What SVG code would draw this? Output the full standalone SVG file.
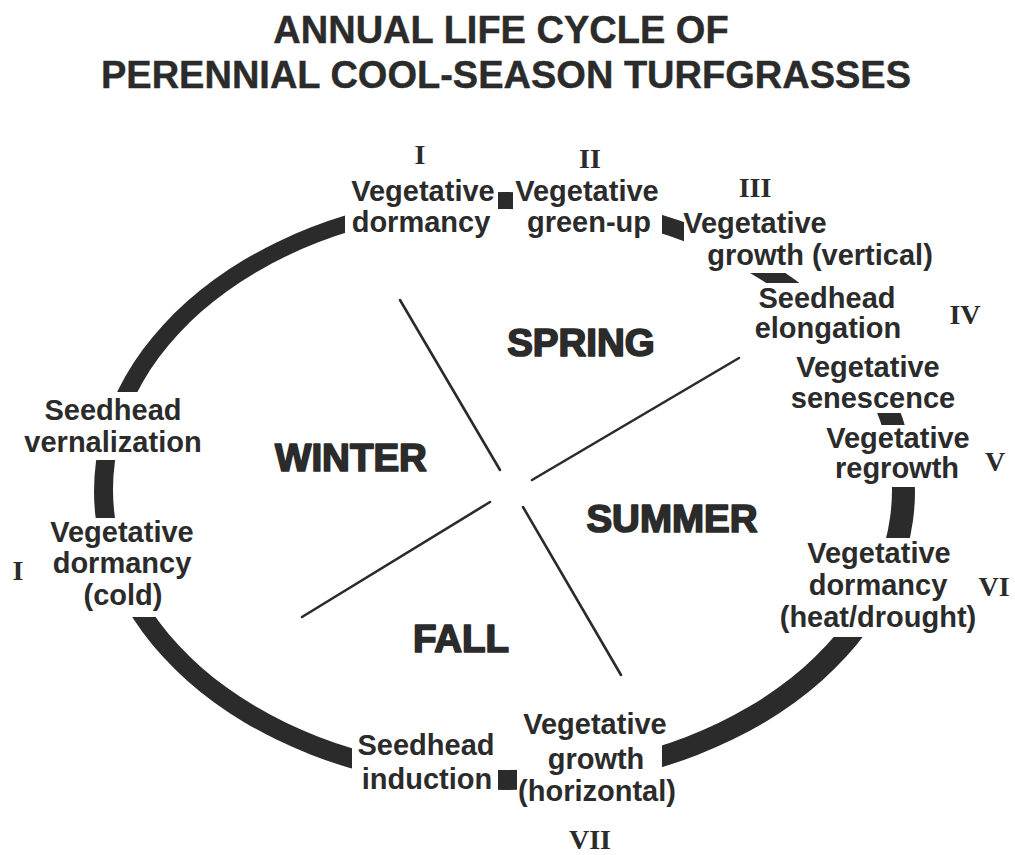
<svg xmlns="http://www.w3.org/2000/svg" width="1015" height="855" viewBox="0 0 1015 855">
<style>
  .title { font-family: "Liberation Sans", Arial, sans-serif; font-weight: bold; font-size: 38px; fill: #2b2b2b; stroke: #2b2b2b; stroke-width: 0.4px; text-anchor: middle; }
  .lbl { font-family: "Liberation Sans", Arial, sans-serif; font-weight: bold; font-size: 29px; fill: #2b2b2b; text-anchor: middle; }
  .season { font-family: "Liberation Sans", Arial, sans-serif; font-weight: bold; font-size: 38.5px; fill: #2b2b2b; stroke: #2b2b2b; stroke-width: 1.7px; stroke-linejoin: round; text-anchor: middle; }
  .num { font-family: "Liberation Serif", "Times New Roman", serif; font-weight: bold; font-size: 28px; fill: #2b2b2b; text-anchor: middle; }
  .ring { fill: #2b2b2b; fill-rule: evenodd; }
  .div { stroke: #2b2b2b; stroke-width: 2.6; fill: none; stroke-linecap: round; }
</style>
<defs>
  <mask id="labelGaps" maskUnits="userSpaceOnUse" x="0" y="0" width="1015" height="855">
    <rect x="0" y="0" width="1015" height="855" fill="#fff"/>
    <rect x="345" y="140" width="153" height="110" fill="#000"/>
    <rect x="513" y="140" width="149" height="110" fill="#000"/>
    <rect x="684" y="140" width="261" height="133" fill="#000"/>
    <rect x="740" y="283" width="225" height="130" fill="#000"/>
    <rect x="820" y="425" width="160" height="62" fill="#000"/>
    <rect x="770" y="538" width="220" height="99" fill="#000"/>
    <rect x="517" y="700" width="145" height="120" fill="#000"/>
    <rect x="352" y="700" width="146" height="120" fill="#000"/>
    <rect x="30" y="518" width="185" height="99" fill="#000"/>
    <rect x="20" y="392" width="195" height="68" fill="#000"/>
  </mask>
</defs>
<rect x="0" y="0" width="1015" height="855" fill="#fff"/>

<g id="title">
  <text class="title" x="501" y="43">ANNUAL LIFE CYCLE OF</text>
  <text class="title" x="506" y="88">PERENNIAL COOL-SEASON TURFGRASSES</text>
</g>

<g id="connectors">
  <path class="ring" mask="url(#labelGaps)" d="M 94 491 A 410.5 299 0 1 0 915 491 A 410.5 299 0 1 0 94 491 Z M 113 489.5 A 389.5 280.5 0 1 0 892 489.5 A 389.5 280.5 0 1 0 113 489.5 Z"/>
  <line class="div" x1="400" y1="300" x2="500" y2="470"/>
  <line class="div" x1="532" y1="480" x2="739" y2="358"/>
  <line class="div" x1="490" y1="502" x2="302" y2="617"/>
  <line class="div" x1="523" y1="507" x2="621" y2="675"/>
</g>

<g id="season-spring"><text class="season" x="581" y="356">SPRING</text></g>
<g id="season-winter"><text class="season" x="351" y="471">WINTER</text></g>
<g id="season-summer"><text class="season" x="672" y="532">SUMMER</text></g>
<g id="season-fall"><text class="season" x="461" y="652">FALL</text></g>

<g id="stage-I-top">
  <text class="num" x="420" y="164">I</text>
  <text class="lbl" x="423" y="201">Vegetative</text>
  <text class="lbl" x="421" y="232">dormancy</text>
</g>
<g id="stage-II">
  <text class="num" x="590" y="168">II</text>
  <text class="lbl" x="587" y="201">Vegetative</text>
  <text class="lbl" x="589" y="232">green-up</text>
</g>
<g id="stage-III">
  <text class="num" x="755" y="197">III</text>
  <text class="lbl" x="755" y="233">Vegetative</text>
  <text class="lbl" x="820" y="265">growth (vertical)</text>
</g>
<g id="stage-IV">
  <text class="num" x="965" y="324">IV</text>
  <text class="lbl" x="827" y="308">Seedhead</text>
  <text class="lbl" x="828" y="338">elongation</text>
</g>
<g id="stage-senescence">
  <text class="lbl" x="868" y="377">Vegetative</text>
  <text class="lbl" x="873" y="408">senescence</text>
</g>
<g id="stage-V">
  <text class="num" x="995" y="471">V</text>
  <text class="lbl" x="898" y="448">Vegetative</text>
  <text class="lbl" x="897" y="478">regrowth</text>
</g>
<g id="stage-VI">
  <text class="num" x="994" y="596">VI</text>
  <text class="lbl" x="879" y="563">Vegetative</text>
  <text class="lbl" x="878" y="595">dormancy</text>
  <text class="lbl" x="878" y="627">(heat/drought)</text>
</g>
<g id="stage-VII">
  <text class="num" x="590" y="849">VII</text>
  <text class="lbl" x="595" y="734">Vegetative</text>
  <text class="lbl" x="596" y="769">growth</text>
  <text class="lbl" x="597" y="801">(horizontal)</text>
</g>
<g id="stage-induction">
  <text class="lbl" x="426" y="755">Seedhead</text>
  <text class="lbl" x="427" y="789">induction</text>
</g>
<g id="stage-vernalization">
  <text class="lbl" x="113" y="420">Seedhead</text>
  <text class="lbl" x="113" y="452">vernalization</text>
</g>
<g id="stage-I-left">
  <text class="num" x="18" y="580">I</text>
  <text class="lbl" x="122" y="542">Vegetative</text>
  <text class="lbl" x="122" y="573">dormancy</text>
  <text class="lbl" x="123" y="605">(cold)</text>
</g>
</svg>
